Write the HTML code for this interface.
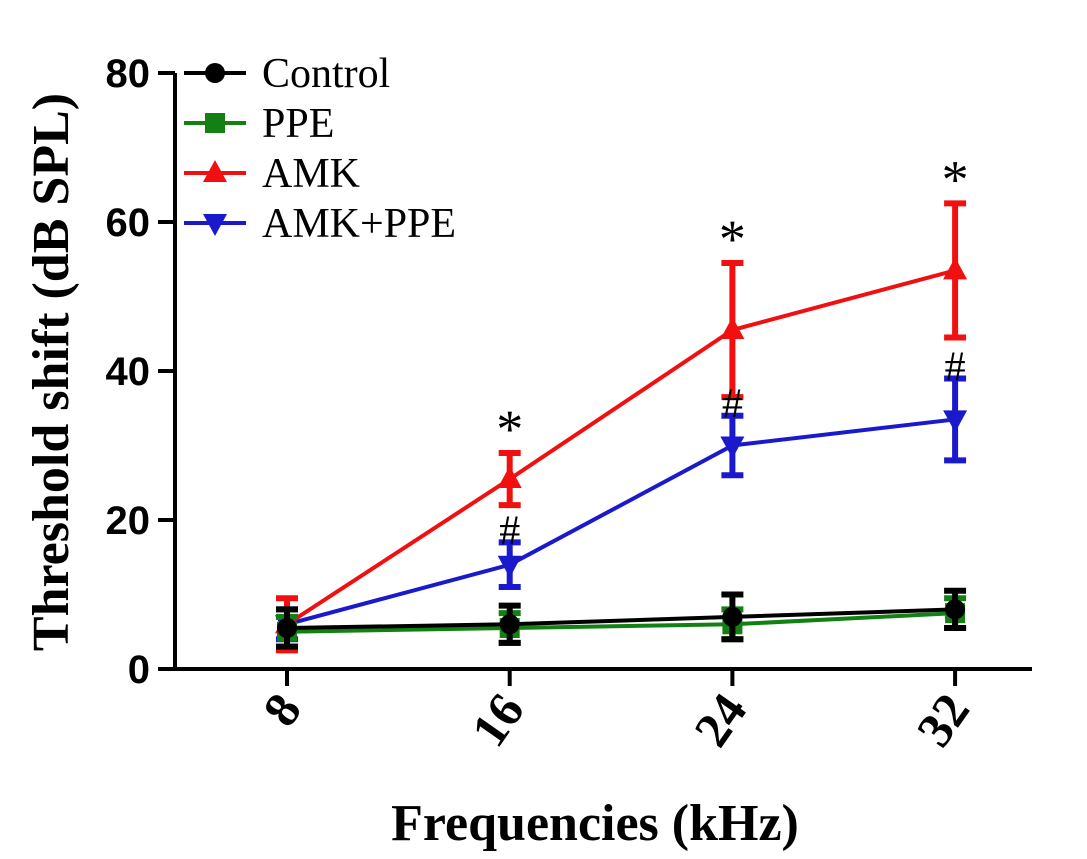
<!DOCTYPE html>
<html><head><meta charset="utf-8"><style>
body{margin:0;background:#fff;}
svg{display:block}
</style></head><body>
<svg id="chart" width="1087" height="859" xmlns="http://www.w3.org/2000/svg">
<g id="axes"></g>
<g id="series"></g>
<g id="legend"></g>
<text transform="translate(68,372) rotate(-90)" text-anchor="middle" font-family="Liberation Serif, serif" font-weight="bold" font-size="52">Threshold shift (dB SPL)</text>
<text x="595" y="840" text-anchor="middle" font-family="Liberation Serif, serif" font-weight="bold" font-size="52">Frequencies (kHz)</text>
</svg>
<script>
const categories = ["8","16","24","32"];
const yTicks = [0,20,40,60,80];
const seriesNames = ["Control","PPE","AMK","AMK+PPE"];
const controlVals = [5.5,6,7,8];
const controlErr = [2.5,2.5,3,2.5];
const ppeVals = [5,5.5,6,7.5];
const ppeErr = [2,2,2,2];
const amkVals = [6,25.5,45.5,53.5];
const amkErr = [3.5,3.5,9,9];
const amkppeVals = [6,14,30,33.5];
const amkppeErr = [2,3,4,5.5];
const starMarks = [null,"*","*","*"];
const hashMarks = [null,"#","#","#"];

const NS="http://www.w3.org/2000/svg";
const xPos = i => 287 + i*222.7;
const yPos = v => 669 - v*7.45;
function mk(tag, attrs, parent){const e=document.createElementNS(NS,tag);for(const k in attrs)e.setAttribute(k,attrs[k]);parent.appendChild(e);return e;}
const axes=document.getElementById('axes');
const ser=document.getElementById('series');
const leg=document.getElementById('legend');

let yl=mk('line',{x1:175,y1:yPos(80),x2:175,y2:yPos(0),stroke:'#000','stroke-width':4},axes);


let xl=mk('line',{x1:158,y1:yPos(0),x2:1032,y2:yPos(0),stroke:'#000','stroke-width':4},axes);


yTicks.forEach(t=>{
  let l=mk('line',{x1:158,y1:yPos(t),x2:175,y2:yPos(t),stroke:'#000','stroke-width':4},axes);
  
  
  let tx=mk('text',{x:150,y:yPos(t)+14,'text-anchor':'end','font-family':'Liberation Sans, sans-serif','font-weight':'bold','font-size':40},axes);
  
  
  tx.textContent=t;
});
categories.forEach((c,i)=>{
  let l=mk('line',{x1:xPos(i),y1:yPos(0),x2:xPos(i),y2:yPos(0)+17,stroke:'#000','stroke-width':4},axes);
  
  
  let tx=mk('text',{transform:`translate(${xPos(i)+16},${yPos(0)+40}) rotate(-55)`,'text-anchor':'end','font-family':'Liberation Serif, serif','font-weight':'bold','font-size':50},axes);
  
  
  tx.textContent=c;
});

function marker(shape,x,y,color,parent){
  let e;
  if(shape==='circle') e=mk('circle',{cx:x,cy:y,r:10,fill:color},parent);
  else if(shape==='square') e=mk('rect',{x:x-10,y:y-10,width:20,height:20,fill:color},parent);
  else if(shape==='up') e=mk('polygon',{points:`${x},${y-13} ${x-12},${y+9} ${x+12},${y+9}`,fill:color},parent);
  else e=mk('polygon',{points:`${x},${y+13} ${x-12},${y-9} ${x+12},${y-9}`,fill:color},parent);
  return e;
}
const defs=[
 {name:seriesNames[3],vals:amkppeVals,err:amkppeErr,color:'#1a1acc',shape:'down'},
 {name:seriesNames[2],vals:amkVals,err:amkErr,color:'#f01010',shape:'up'},
 {name:seriesNames[1],vals:ppeVals,err:ppeErr,color:'#128012',shape:'square'},
 {name:seriesNames[0],vals:controlVals,err:controlErr,color:'#000',shape:'circle'}
];
defs.forEach(s=>{
  const g=mk('g',{},ser);
  
  
  const pts=s.vals.map((v,i)=>xPos(i)+','+yPos(v)).join(' ');
  let pl=mk('polyline',{points:pts,fill:'none',stroke:s.color,'stroke-width':4},g);
  
  
  s.vals.forEach((v,i)=>{
    const x=xPos(i),y1=yPos(v+s.err[i]),y2=yPos(v-s.err[i]);
    let eb=mk('path',{d:`M${x},${y1}V${y2}M${x-11},${y1}H${x+11}M${x-11},${y2}H${x+11}`,stroke:s.color,'stroke-width':6,fill:'none'},g);
    
    
    let m=marker(s.shape,x,yPos(v),s.color,g);
    
    
  });
});
categories.forEach((c,i)=>{
  if(starMarks[i]){
    let t=mk('text',{x:xPos(i),y:yPos(amkVals[i]+amkErr[i])-6,'text-anchor':'middle','font-family':'Liberation Serif, serif','font-size':54},ser);
    
    
    t.textContent=starMarks[i];
  }
  if(hashMarks[i]){
    let t=mk('text',{x:xPos(i),y:yPos(amkppeVals[i]+amkppeErr[i])+2,'text-anchor':'middle','font-family':'Liberation Serif, serif','font-size':42},ser);
    
    
    t.textContent=hashMarks[i];
  }
});
const legShapes=['circle','square','up','down'];
const legColors=['#000','#128012','#f01010','#1a1acc'];
seriesNames.forEach((n,i)=>{
  const y=73+i*50;
  const g=mk('g',{},leg);
  
  
  mk('line',{x1:184,y1:y,x2:246,y2:y,stroke:legColors[i],'stroke-width':4},g);
  marker(legShapes[i],215,y,legColors[i],g);
  let t=mk('text',{x:262,y:y+14,'font-family':'Liberation Serif, serif','font-size':42},g);
  t.textContent=n;
});
</script>
</body></html>
